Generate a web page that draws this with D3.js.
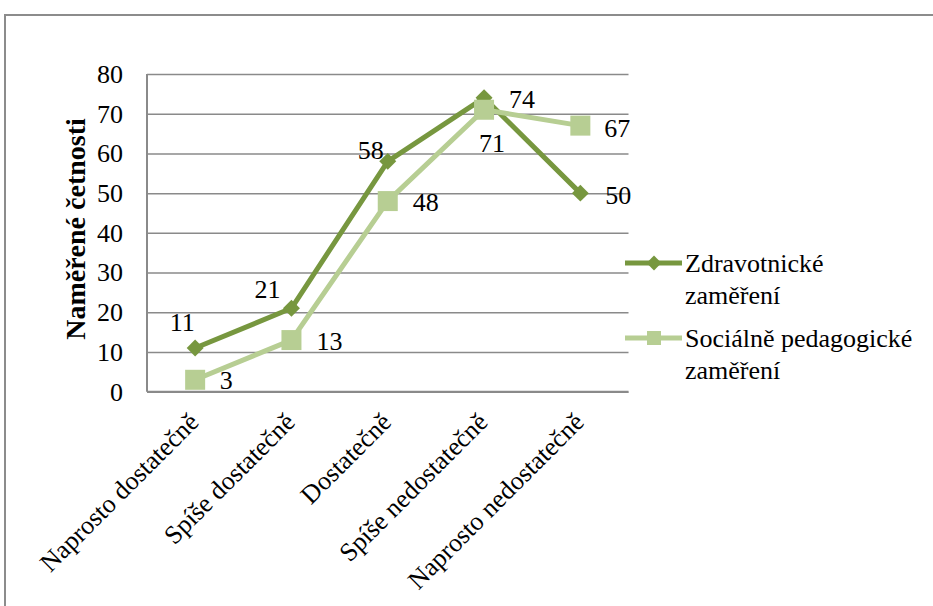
<!DOCTYPE html>
<html>
<head>
<meta charset="utf-8">
<script src="https://cdn.jsdelivr.net/npm/d3@7"></script>
<style>
  html, body { margin: 0; padding: 0; background: #fff; }
  svg { display: block; }
  svg text { font-family: "Liberation Serif", "Times New Roman", Tinos, "DejaVu Serif", serif; }
</style>
</head>
<body>
<div id="chart"></div>
<script>
// Data
const categories = ['Naprosto dostatečně', 'Spíše dostatečně', 'Dostatečně', 'Spíše nedostatečně', 'Naprosto nedostatečně'];
const seriesNames = ['Zdravotnické zaměření', 'Sociálně pedagogické zaměření'];
const zdravotnicke = [11, 21, 58, 74, 50];
const socialne = [3, 13, 48, 71, 67];
const yTicks = [0, 10, 20, 30, 40, 50, 60, 70, 80];

// Label nudges (relative to the point), as placed in the original
const nudgeZdr = [[-13, -26], [-24, -19], [-17, -11], [38, 1], [38, 2]];
const nudgeSoc = [[31, 0], [38, 1], [38, 1], [8, 33], [37, 2]];

const W = 933, H = 606;
const margin = { left: 147, right: 933 - 628.5, top: 74, bottom: 606 - 391.7 };
const colors = { dark: '#77973f', light: '#b7ce93', grid: '#8a8a8a' };
const fontSize = 26;
const serif = '"Liberation Serif", "Times New Roman", Tinos, "DejaVu Serif", serif';

const svg = d3.select('#chart').append('svg')
  .attr('width', W)
  .attr('height', H)
  .attr('font-family', serif);

// Outer chart border (runs off the picture on the right and bottom)
svg.append('rect')
  .attr('x', 5).attr('y', 15)
  .attr('width', W + 20).attr('height', H + 20)
  .attr('fill', 'none')
  .attr('stroke', '#8c8c8c')
  .attr('stroke-width', 2);

const x = d3.scalePoint()
  .domain(categories)
  .range([margin.left, W - margin.right])
  .padding(0.5);

const y = d3.scaleLinear()
  .domain([0, 80])
  .range([H - margin.bottom, margin.top]);

// Gridlines + y tick labels
const yAxis = svg.append('g')
  .attr('transform', `translate(${margin.left},0)`)
  .call(d3.axisLeft(y)
    .tickValues(yTicks)
    .tickSize(-(W - margin.right - margin.left))
    .tickPadding(24))
  .attr('font-family', serif)
  .attr('font-size', fontSize);

yAxis.select('.domain').remove();
yAxis.selectAll('.tick line')
  .attr('stroke', colors.grid)
  .attr('stroke-width', 1.5);
yAxis.selectAll('.tick text')
  .attr('fill', '#000');

// Axis lines
svg.append('line')
  .attr('x1', margin.left).attr('x2', margin.left)
  .attr('y1', y(80)).attr('y2', y(0))
  .attr('stroke', colors.grid).attr('stroke-width', 2);
svg.append('line')
  .attr('x1', margin.left).attr('x2', W - margin.right)
  .attr('y1', y(0)).attr('y2', y(0))
  .attr('stroke', colors.grid).attr('stroke-width', 2);

// Category labels, rotated
svg.append('g').selectAll('text')
  .data(categories)
  .join('text')
  .attr('transform', d => `translate(${x(d) + 5},${y(0) + 32}) rotate(-45)`)
  .attr('text-anchor', 'end')
  .attr('font-size', fontSize)
  .attr('fill', '#000')
  .text(d => d);

// Y axis title
svg.append('text')
  .attr('transform', `translate(85,229) rotate(-90)`)
  .attr('text-anchor', 'middle')
  .attr('font-size', 28)
  .attr('font-weight', 'bold')
  .attr('fill', '#000')
  .text('Naměřené četnosti');

const line = d3.line()
  .x((d, i) => x(categories[i]))
  .y(d => y(d));

function drawSeries(values, color, marker) {
  const g = svg.append('g');
  g.append('path')
    .datum(values)
    .attr('d', line)
    .attr('fill', 'none')
    .attr('stroke', color)
    .attr('stroke-width', 5)
    .attr('stroke-linejoin', 'round');

  if (marker === 'diamond') {
    g.selectAll('path.m')
      .data(values)
      .join('path')
      .attr('class', 'm')
      .attr('transform', (d, i) => `translate(${x(categories[i])},${y(d)}) rotate(45)`)
      .attr('d', d3.symbol().type(d3.symbolSquare).size(144))
      .attr('fill', color);
  } else {
    g.selectAll('rect.m')
      .data(values)
      .join('rect')
      .attr('class', 'm')
      .attr('x', (d, i) => x(categories[i]) - 10)
      .attr('y', d => y(d) - 10)
      .attr('width', 20)
      .attr('height', 20)
      .attr('fill', color);
  }
  return g;
}

drawSeries(zdravotnicke, colors.dark, 'diamond');
drawSeries(socialne, colors.light, 'square');

// Data labels (drawn on top)
function drawLabels(values, nudge) {
  svg.append('g').selectAll('text')
    .data(values)
    .join('text')
    .attr('x', (d, i) => x(categories[i]) + nudge[i][0])
    .attr('y', (d, i) => y(d) + nudge[i][1])
    .attr('dy', '0.35em')
    .attr('text-anchor', 'middle')
    .attr('font-size', fontSize)
    .attr('fill', '#000')
    .text(d => d);
}
drawLabels(zdravotnicke, nudgeZdr);
drawLabels(socialne, nudgeSoc);

// Legend
const legendItems = [
  { lines: ['Zdravotnické', 'zaměření'], color: colors.dark, marker: 'diamond', y: 263 },
  { lines: ['Sociálně pedagogické', 'zaměření'], color: colors.light, marker: 'square', y: 338 }
];
const legend = svg.append('g');
legendItems.forEach(item => {
  const g = legend.append('g').attr('transform', `translate(625,${item.y})`);
  g.append('line')
    .attr('x1', 0).attr('x2', 57)
    .attr('y1', 0).attr('y2', 0)
    .attr('stroke', item.color)
    .attr('stroke-width', 5);
  if (item.marker === 'diamond') {
    g.append('path')
      .attr('transform', 'translate(29,0) rotate(45)')
      .attr('d', d3.symbol().type(d3.symbolSquare).size(110))
      .attr('fill', item.color);
  } else {
    g.append('rect')
      .attr('x', 22).attr('y', -7)
      .attr('width', 14).attr('height', 14)
      .attr('fill', item.color);
  }
  const t = g.append('text')
    .attr('x', 60)
    .attr('y', 0)
    .attr('font-size', fontSize)
    .attr('fill', '#000');
  item.lines.forEach((ln, i) => {
    t.append('tspan')
      .attr('x', 60)
      .attr('dy', i === 0 ? '0.35em' : 32)
      .text(ln);
  });
});
</script>
</body>
</html>
